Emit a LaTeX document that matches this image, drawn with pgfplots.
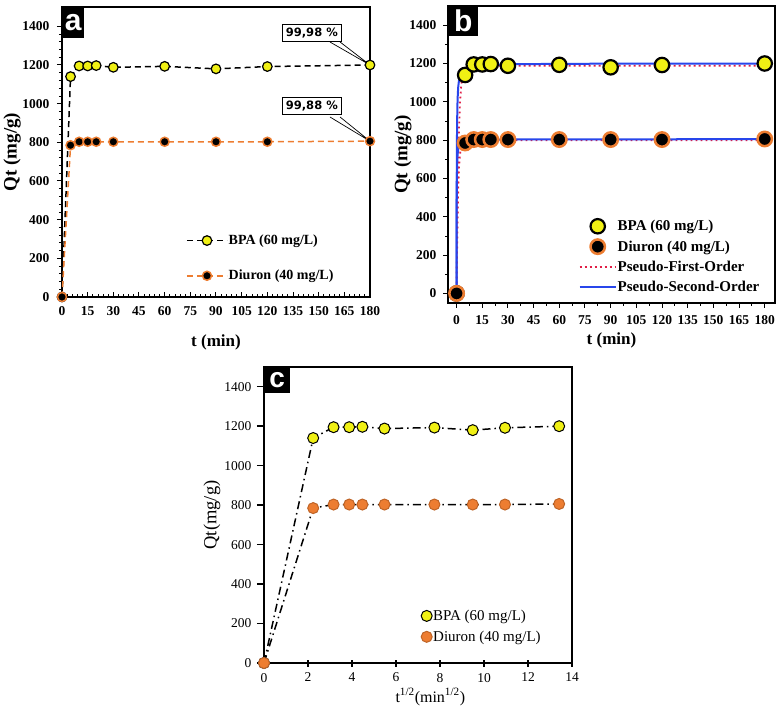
\documentclass[border=0pt]{standalone}
\usepackage{pgfplots}
\pgfplotsset{compat=1.18}
\usepackage{fontspec}
\setmainfont{Liberation Serif}
\newfontfamily\djs{DejaVu Sans}
\newfontfamily\lsans{Liberation Sans}
\definecolor{dor}{RGB}{237,125,49}
\definecolor{yel}{RGB}{240,240,20}
\definecolor{fblue}{RGB}{40,70,235}
\definecolor{fred}{RGB}{225,30,70}
\pgfplotsset{
  common/.style={
    scale only axis, anchor=south west,
    axis line style={line width=1.5pt},
    tick pos=left,
    major tick length=5pt, minor tick length=3pt,
    major tick style={line width=1pt,black},
    minor tick style={line width=0.8pt,black},
    /pgf/number format/assume math mode=true,
    /pgf/number format/set thousands separator={},
    legend cell align=left,
  },
  markleg/.style={legend image code/.code={\draw[##1] plot coordinates {(18pt,0pt)};}},
  lineleg/.style={legend image code/.code={\draw[##1] (0pt,0pt) -- (36pt,0pt);}},
}
\begin{document}
\begin{tikzpicture}
\useasboundingbox (0,0) rectangle (780pt,705pt);
% ---------------- panel a
\begin{axis}[common, at={(62pt,408pt)}, width=308pt, height=290pt,
  xmin=0, xmax=180, ymin=0, ymax=1500,
  xtick={0,15,...,180}, ytick={0,200,...,1400},
  minor x tick num=4, minor y tick num=4,
  xtick align=inside, ytick align=outside,
  ticklabel style={font=\bfseries\fontsize{13.5}{14}\selectfont},
  xticklabel style={yshift=-6pt}, yticklabel style={xshift=-4pt},
  xlabel={t (min)}, ylabel={Qt (mg/g)},
  xlabel style={font=\bfseries\fontsize{17}{18}\selectfont, at={(axis description cs:0.5,-0.155)}, anchor=center},
  ylabel style={font=\bfseries\fontsize{19}{20}\selectfont, at={(axis description cs:-0.162,0.5)}, anchor=center},
  legend style={at={(0.393,0.225)}, anchor=north west, draw=none, fill=none,
    font=\bfseries\fontsize{14}{15}\selectfont, row sep=22pt, nodes={inner sep=1pt}},
  legend image code/.code={\draw[mark repeat=2,mark phase=2,#1] plot coordinates {(0pt,0pt) (20pt,0pt) (40pt,0pt)};},
]
\addplot[black, line width=1.5pt, dash pattern=on 6pt off 4pt, mark=*, mark size=4.8pt,
  mark options={solid, fill=yel, draw=black, line width=1.2pt}] coordinates {
  (0,0) (5,1140) (10,1195) (15,1195) (20,1197) (30,1188) (60,1193) (90,1180) (120,1192) (180,1200)};
\addlegendentry{BPA (60 mg/L)}
\addplot[dor, line width=1.5pt, dash pattern=on 6pt off 4pt, mark=*, mark size=4.5pt,
  mark options={solid, fill=black, draw=dor, line width=1.5pt}] coordinates {
  (0,0) (5,785) (10,803) (15,803) (20,803) (30,803) (60,803) (90,803) (120,803) (180,806)};
\addlegendentry{Diuron (40 mg/L)}
\draw[line width=0.7pt] (axis cs:156.6,1319) -- (axis cs:180,1200) -- (axis cs:162.5,1319);
\draw[line width=0.7pt] (axis cs:156.6,931) -- (axis cs:180,806) -- (axis cs:162.5,931);
\node[draw=black, fill=white, line width=0.8pt, font=\djs\bfseries\fontsize{11.5}{12}\selectfont,
  inner xsep=3.5pt, minimum height=17pt] at (axis cs:146,1365) {99,98 \%};
\node[draw=black, fill=white, line width=0.8pt, font=\djs\bfseries\fontsize{11.5}{12}\selectfont,
  inner xsep=3.5pt, minimum height=17pt] at (axis cs:146,988) {99,88 \%};
\node[fill=black, text=white, anchor=north west, minimum width=22pt, minimum height=31pt, inner sep=0pt,
  font=\lsans\bfseries\fontsize{30}{30}\selectfont] at (rel axis cs:0,1) {a};
\end{axis}
% ---------------- panel b
\begin{axis}[common, at={(448pt,402pt)}, width=327pt, height=297pt,
  xmin=-5, xmax=186, ymin=-50, ymax=1500,
  xtick={0,15,...,180}, ytick={0,200,...,1400},
  minor x tick num=1, minor y tick num=1,
  tick align=outside,
  ticklabel style={font=\bfseries\fontsize{13.5}{14}\selectfont},
  xticklabel style={yshift=-4pt}, yticklabel style={xshift=-3pt},
  xlabel={t (min)}, ylabel={Qt (mg/g)},
  xlabel style={font=\bfseries\fontsize{17}{18}\selectfont, at={(axis description cs:0.5,-0.125)}, anchor=center},
  ylabel style={font=\bfseries\fontsize{19}{20}\selectfont, at={(axis description cs:-0.138,0.5)}, anchor=center},
  legend style={at={(0.39,0.29)}, anchor=north west, draw=none, fill=none,
    font=\bfseries\fontsize{15}{16}\selectfont, row sep=6pt, nodes={inner sep=1pt}},
]
\addplot[only marks, mark=*, mark size=7.2pt, mark options={fill=yel, draw=black, line width=2.2pt},
  markleg] coordinates {
  (0,0) (5,1140) (10,1195) (15,1195) (20,1197) (30,1188) (60,1193) (90,1180) (120,1192) (180,1200)};
\addlegendentry{BPA (60 mg/L)}
\addplot[only marks, mark=*, mark size=7.2pt, mark options={fill=black, draw=dor, line width=2.5pt},
  markleg] coordinates {
  (0,0) (5,785) (10,803) (15,803) (20,803) (30,803) (60,803) (90,803) (120,803) (180,806)};
\addlegendentry{Diuron (40 mg/L)}
\addplot[fred, line width=1.8pt, dash pattern=on 1.8pt off 3.2pt, lineleg] coordinates {
  (0,0) (0.5,430) (1,705) (1.5,880) (2,992) (2.5,1063) (3,1108) (4,1156) (5,1175) (7,1186) (10,1188) (180,1188)};
\addlegendentry{Pseudo-First-Order}
\addplot[fblue, line width=2pt, lineleg] coordinates {
  (0,0) (0.1,568) (0.2,771) (0.3,876) (0.5,982) (0.75,1045) (1,1080) (1.5,1117) (2,1137) (3,1157) (5,1174)
  (7.5,1182) (10,1187) (15,1191) (20,1193) (30,1196) (45,1197) (60,1198) (90,1199) (180,1199)};
\addlegendentry{Pseudo-Second-Order}
\addplot[fred, line width=1.8pt, dash pattern=on 1.8pt off 3.2pt, forget plot] coordinates {
  (0,0) (0.5,361) (1,559) (1.5,668) (2,727) (3,778) (4,793) (5,798) (7,800) (180,800)};
\addplot[fblue, line width=2pt, forget plot] coordinates {
  (0,0) (0.05,345) (0.1,483) (0.2,604) (0.3,659) (0.5,710) (0.75,739) (1,755) (1.5,771) (2,779)
  (3,787) (5,794) (10,800) (20,803) (60,804) (180,805)};
\node[fill=black, text=white, anchor=north west, minimum width=30pt, minimum height=30pt, inner sep=0pt,
  font=\lsans\bfseries\fontsize{30}{30}\selectfont] at (rel axis cs:0,1) {b};
\end{axis}
% ---------------- panel c
\begin{axis}[common, at={(264pt,42pt)}, width=308pt, height=296pt,
  xmin=0, xmax=14, ymin=0, ymax=1500,
  xtick={0,2,...,14}, ytick={0,200,...,1400},
  xtick align=center, ytick align=outside, major tick length=7pt,
  major tick style={line width=1.5pt,black},
  ticklabel style={font=\fontsize{13.5}{14}\selectfont},
  xticklabel style={yshift=-3pt}, yticklabel style={xshift=-2pt},
  xlabel={t\textsuperscript{1/2}(min\textsuperscript{1/2})}, ylabel={Qt(mg/g)},
  xlabel style={font=\fontsize{16}{17}\selectfont, at={(axis description cs:0.54,-0.115)}, anchor=center},
  ylabel style={font=\fontsize{18.5}{19}\selectfont, at={(axis description cs:-0.169,0.5)}, anchor=center},
  legend style={at={(0.5,0.19)}, anchor=north west, draw=none, fill=none,
    font=\fontsize{15}{16}\selectfont, row sep=7pt, nodes={inner sep=1pt}},
  legend image code/.code={\draw[#1] plot coordinates {(4pt,0pt)};},
]
\addplot[black, line width=1.5pt, dash pattern=on 8pt off 4pt on 1.5pt off 4pt, mark=*, mark size=5.5pt,
  mark options={solid, fill=yel, draw=black, line width=1pt}] coordinates {
  (0,0) (2.236,1140) (3.162,1195) (3.873,1195) (4.472,1197) (5.477,1188) (7.746,1193) (9.487,1180) (10.954,1192) (13.416,1200)};
\addlegendentry{BPA (60 mg/L)}
\addplot[black, line width=1.5pt, dash pattern=on 8pt off 4pt on 1.5pt off 4pt, mark=*, mark size=5.5pt,
  mark options={solid, fill=dor, draw=dor!80!black, line width=1pt}] coordinates {
  (0,0) (2.236,785) (3.162,803) (3.873,803) (4.472,803) (5.477,803) (7.746,803) (9.487,803) (10.954,803) (13.416,806)};
\addlegendentry{Diuron (40 mg/L)}
\node[fill=black, text=white, anchor=north west, minimum width=26pt, minimum height=26pt, inner sep=0pt,
  font=\lsans\bfseries\fontsize{28}{28}\selectfont] at (rel axis cs:0,1) {c};
\end{axis}
\end{tikzpicture}
\end{document}
